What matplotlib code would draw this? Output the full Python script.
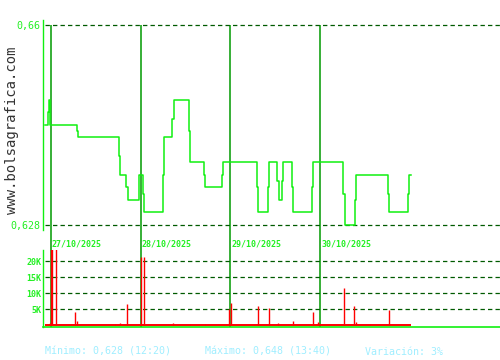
import matplotlib
matplotlib.use("Agg")
import matplotlib.pyplot as plt
import matplotlib.transforms as mtransforms

# ---------------- data ----------------
# x positions in trading-day units (0 = 27/10, 1 = 28/10, ...)
price_t = [-0.064, -0.030, -0.019, -0.011, 0.287, 0.298, 0.761, 0.773, 0.839, 0.855,
           0.984, 1.029, 1.040, 1.252, 1.263, 1.352, 1.368, 1.542, 1.553, 1.709,
           1.720, 1.910, 1.921, 2.300, 2.311, 2.423, 2.434, 2.523, 2.539, 2.579,
           2.590, 2.690, 2.701, 2.913, 2.924, 3.259, 3.274, 3.392, 3.403, 3.760,
           3.771, 3.983, 3.994, 4.010]
price_v = [0.644, 0.646, 0.648, 0.644, 0.643, 0.642, 0.639, 0.636, 0.634, 0.632,
           0.636, 0.633, 0.630, 0.636, 0.642, 0.645, 0.648, 0.643, 0.638, 0.636,
           0.634, 0.636, 0.638, 0.634, 0.630, 0.634, 0.638, 0.635, 0.632, 0.635,
           0.638, 0.634, 0.630, 0.634, 0.638, 0.633, 0.628, 0.632, 0.636, 0.633,
           0.630, 0.633, 0.636, 0.636]

vol_t = [-0.019, -0.008, 0.003, 0.014, 0.059, 0.271, 0.293, 0.717, 0.773, 0.851,
         1.007, 1.040, 1.363, 1.553, 1.720, 1.988, 2.010, 2.311, 2.434, 2.534,
         2.701, 2.924, 2.980, 3.270, 3.381, 3.403, 3.560, 3.771]
vol_v = [300, 700, 30000, 28000, 26000, 4100, 1300, 400, 700, 6700,
         21400, 21400, 700, 400, 400, 5000, 7000, 6000, 5400, 700,
         1300, 4200, 1000, 11700, 6000, 1000, 400, 4800]

day_pos = [0, 1, 2, 3]
day_labels = ["27/10/2025", "28/10/2025", "29/10/2025", "30/10/2025"]

price_ticks = [0.628, 0.66]
price_tick_labels = ["0,628", "0,66"]
vol_ticks = [5000, 10000, 15000, 20000]
vol_tick_labels = ["5K", "10K", "15K", "20K"]

footer = ["Mínimo: 0,628 (12:20)", "Máximo: 0,648 (13:40)", "Variación: 3%"]
watermark = "www.bolsagrafica.com"

# ---------------- style ----------------
W, H = 500, 360
BRIGHT = "#10F010"
DAYLINE = "#009A00"
DASH = "#005A00"
LABEL = "#22F022"
RED = "#FF0000"
FOOT = "#A0EEFF"
MONO = "DejaVu Sans Mono"

px = 1.0 / 89.7  # one pixel in day units
xlim = (-8 * px, 449 * px)

fig = plt.figure(figsize=(W / 100, H / 100), dpi=100)
fig.patch.set_facecolor("white")

def rect(x0, y0, x1, y1):
    return [x0 / W, (H - y1) / H, (x1 - x0) / W, (y1 - y0) / H]

# background axes for the day separator lines
axbg = fig.add_axes(rect(43, 25, 500, 327))
axbg.set_xlim(*xlim)
axbg.set_ylim(0, 1)
axbg.axis("off")
for d in day_pos:
    axbg.axvline(d, color=DAYLINE, lw=1.1, zorder=1)

# ---- price axes ----
ax = fig.add_axes(rect(43, 20, 500, 230))
ax.patch.set_alpha(0)
ax.set_xlim(*xlim)
ax.set_ylim(0.628 - 5 / 6250, 0.66 + 5 / 6250)
for s in ["top", "right", "bottom"]:
    ax.spines[s].set_visible(False)
ax.spines["left"].set_color(BRIGHT)
ax.spines["left"].set_linewidth(1.0)
ax.set_xticks([])
ax.set_yticks(price_ticks)
ax.set_yticklabels(price_tick_labels, family=MONO, fontsize=7.2, color=LABEL)
ax.tick_params(axis="y", length=0, pad=2.2)
for yv in price_ticks:
    ax.hlines(yv, xlim[0] + 2 * px, xlim[1], colors=DASH, lw=0.9,
              linestyles=(0, (3.5, 2.5)), zorder=2)
ax.step(price_t, price_v, where="post", color=BRIGHT, lw=1.1, zorder=4)

# ---- volume axes ----
axv = fig.add_axes(rect(43, 250, 500, 327))
axv.patch.set_alpha(0)
axv.set_xlim(*xlim)
axv.set_ylim(-530, 23530)
for s in ["top", "right"]:
    axv.spines[s].set_visible(False)
axv.spines["left"].set_color(BRIGHT)
axv.spines["bottom"].set_color(BRIGHT)
axv.spines["left"].set_linewidth(1.0)
axv.spines["bottom"].set_linewidth(1.2)
axv.set_xticks([])
axv.set_yticks(vol_ticks)
axv.set_yticklabels(vol_tick_labels, family=MONO, fontsize=6, color=LABEL,
                    fontweight="bold")
axv.tick_params(axis="y", length=0, pad=1)
for yv in vol_ticks:
    axv.hlines(yv, xlim[0] + 2 * px, xlim[1], colors=DASH, lw=0.9,
               linestyles=(0, (3.5, 2.5)), zorder=2)
axv.vlines(vol_t, 0, vol_v, colors=RED, lw=1.0, zorder=3)
axv.hlines(0, price_t[0], price_t[-1], colors=RED, lw=1.4, zorder=3)

# date labels
trans = mtransforms.blended_transform_factory(axv.transData, axv.transAxes)
for d, lab in zip(day_pos, day_labels):
    axv.text(d + 1 * px, 1 + 6 / 77, lab, transform=trans, ha="left", va="center",
             family=MONO, fontsize=6, fontweight="bold", color=LABEL, clip_on=False)

# footer
foot_x = [45, 205, 365]
for fx, txt in zip(foot_x, footer):
    fig.text(fx / W, (H - 351.7) / H, txt, ha="left", va="center",
             family=MONO, fontsize=7.2, color=FOOT)

# watermark
fig.text(12 / W, (H - 130) / H, watermark, rotation=90, ha="center", va="center",
         family=MONO, fontsize=10, color="#333333")

fig.savefig("out.png", dpi=100, facecolor="white")
